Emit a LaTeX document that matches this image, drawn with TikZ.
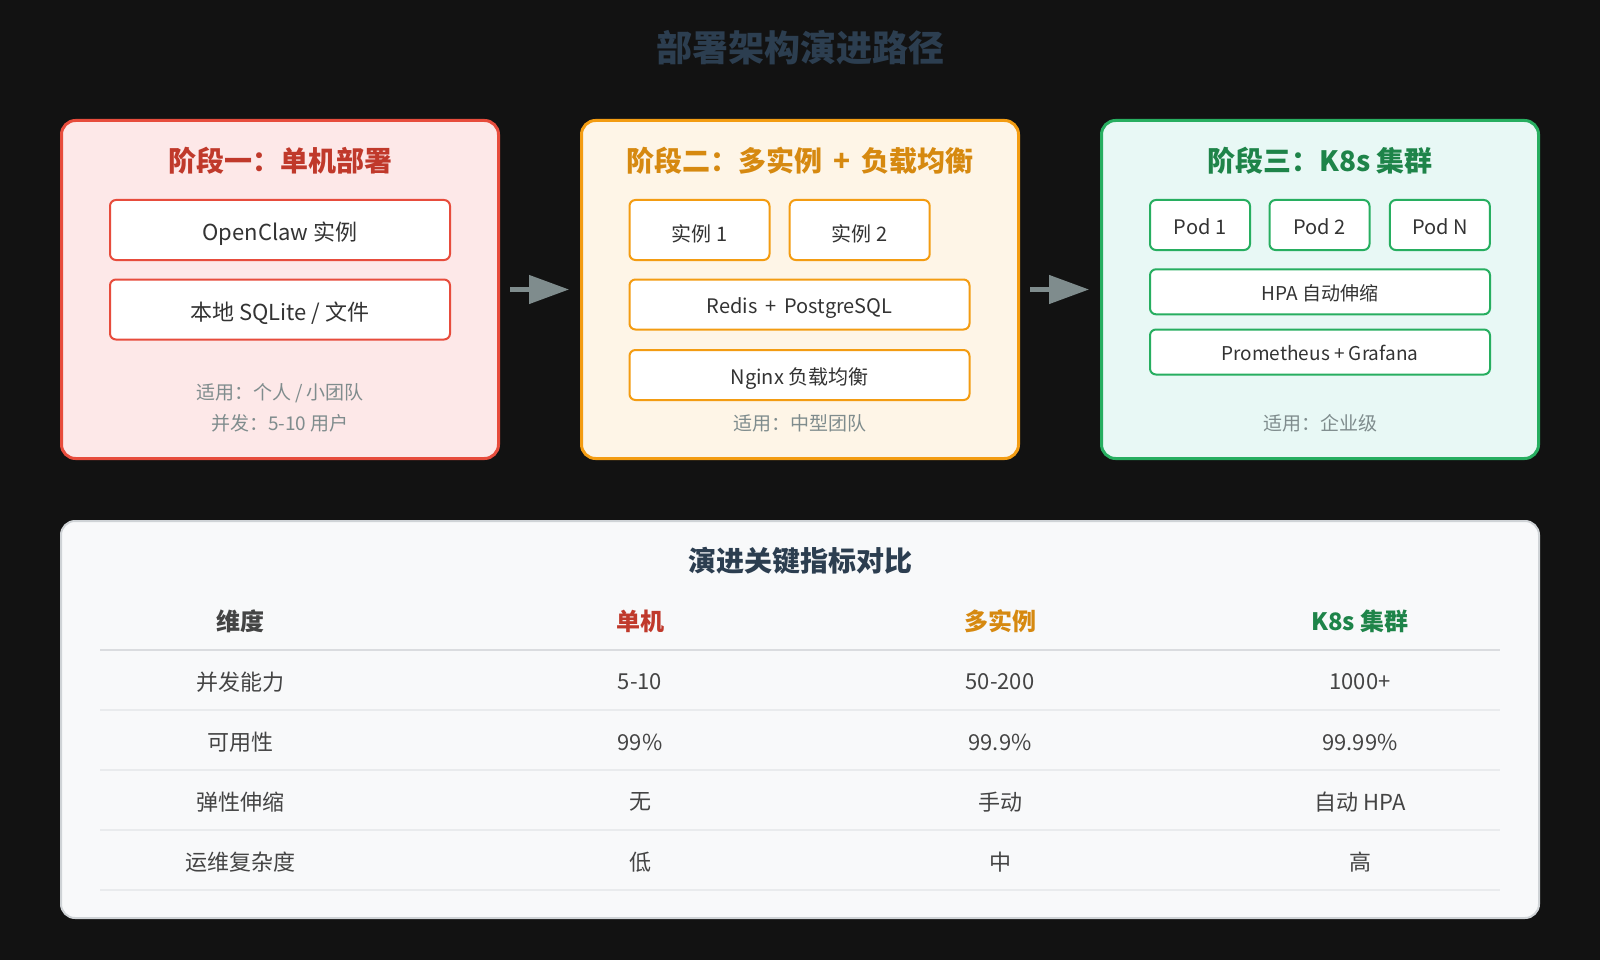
\documentclass[tikz,border=0pt]{standalone}
\usepackage{fontspec}
\setmainfont{Noto Sans CJK SC}
\usetikzlibrary{arrows.meta}
\definecolor{bg}{HTML}{121212}
\definecolor{titlec}{HTML}{2C3E50}
\definecolor{redS}{HTML}{E74C3C}
\definecolor{redT}{HTML}{C0392B}
\definecolor{redF}{HTML}{FDE8E8}
\definecolor{orS}{HTML}{F39C12}
\definecolor{orT}{HTML}{D68910}
\definecolor{orF}{HTML}{FEF5E7}
\definecolor{grS}{HTML}{27AE60}
\definecolor{grT}{HTML}{1E8449}
\definecolor{grF}{HTML}{E8F8F5}
\definecolor{grayT}{HTML}{7F8C8D}
\definecolor{textc}{HTML}{333333}
\definecolor{rowc}{HTML}{444444}
\definecolor{panelF}{HTML}{F8F9FA}
\definecolor{panelS}{HTML}{CFD3D6}
\definecolor{hline}{HTML}{DADCDF}
\definecolor{rline}{HTML}{E9EBED}
\newcommand{\mydown}[2]{\raisebox{-#1}[\height][\depth]{#2}}
\newcommand{\plsp}{\hspace{0.4em}+\hspace{0.4em}}
\tikzset{
  stagebox/.style={rounded corners=14pt, line width=3pt, minimum width=437pt, minimum height=338pt, inner sep=0pt},
  itembox/.style={rounded corners=6pt, line width=2pt, fill=white, inner sep=0pt, text=textc},
  stagetitle/.style={font=\fontsize{28}{32}\selectfont\bfseries, inner sep=0pt},
  note/.style={font=\fontsize{19}{22}\selectfont, text=grayT, inner sep=0pt},
  itemtext/.style={font=\fontsize{22}{26}\selectfont},
  podtext/.style={font=\fontsize{20}{24}\selectfont},
  flow/.style={draw=grayT, line width=4.5pt, -{Triangle[length=40pt,width=28pt]}, shorten <=10pt, shorten >=11pt},
  cell/.style={font=\fontsize{22}{26}\selectfont, text=rowc, inner sep=0pt},
  head/.style={font=\fontsize{24}{28}\selectfont\bfseries, inner sep=0pt},
}
\begin{document}
\begin{tikzpicture}[x=1pt,y=-1pt]
\fill[bg] (0,0) rectangle (1600,960);
\useasboundingbox (0,0) rectangle (1600,960);

\node[font=\fontsize{36}{40}\selectfont\bfseries, text=titlec, inner sep=0pt] (title) at (800,48) {部署架构演进路径};

% Stage 1
\node[stagebox, draw=redS, fill=redF] (s1) at (280,289.5) {};
\node[stagetitle, text=redT] (s1t) at (280,161) {阶段一：单机部署};
\node[itembox, draw=redS, minimum width=340pt, minimum height=60pt, itemtext] (s1a) at (280,230) {\mydown{4pt}{OpenClaw 实例}};
\node[itembox, draw=redS, minimum width=340pt, minimum height=60pt, itemtext] (s1b) at (280,309.5) {\mydown{4pt}{本地 SQLite / 文件}};
\node[note] (s1n1) at (280,393.5) {适用：个人 / 小团队};
\node[note] (s1n2) at (280,423) {并发：5-10 用户};

% Stage 2
\node[stagebox, draw=orS, fill=orF] (s2) at (800,289.5) {};
\node[stagetitle, text=orT] (s2t) at (800,161) {阶段二：多实例\plsp 负载均衡};
\node[itembox, draw=orS, minimum width=140pt, minimum height=60pt, podtext] (s2a) at (699.5,230) {\mydown{3.5pt}{实例 1}};
\node[itembox, draw=orS, minimum width=140pt, minimum height=60pt, podtext] (s2b) at (859.7,230) {\mydown{3.5pt}{实例 2}};
\node[itembox, draw=orS, minimum width=340pt, minimum height=50pt, podtext] (s2c) at (799.5,304.5) {\mydown{3.5pt}{Redis\plsp PostgreSQL}};
\node[itembox, draw=orS, minimum width=340pt, minimum height=50pt, podtext] (s2d) at (799.5,375) {\mydown{3.5pt}{Nginx 负载均衡}};
\node[note] (s2n) at (800,423) {适用：中型团队};

% Stage 3
\node[stagebox, draw=grS, fill=grF] (s3) at (1320,289.5) {};
\node[stagetitle, text=grT] (s3t) at (1320,161) {阶段三：K8s 集群};
\node[itembox, draw=grS, minimum width=100pt, minimum height=50pt, podtext] (p1) at (1200,225) {\mydown{2pt}{Pod 1}};
\node[itembox, draw=grS, minimum width=100pt, minimum height=50pt, podtext] (p2) at (1319.5,225) {\mydown{2pt}{Pod 2}};
\node[itembox, draw=grS, minimum width=100pt, minimum height=50pt, podtext] (pn) at (1439.8,225) {\mydown{2pt}{Pod N}};
\node[itembox, draw=grS, minimum width=340pt, minimum height=45pt, font=\fontsize{19}{22}\selectfont] (hpa) at (1320,291.8) {\mydown{1pt}{HPA 自动伸缩}};
\node[itembox, draw=grS, minimum width=340pt, minimum height=45pt, font=\fontsize{19}{22}\selectfont] (prom) at (1320,352) {\mydown{1pt}{Prometheus + Grafana}};
\node[note] (s3n) at (1320,423) {适用：企业级};

% arrows
\draw[flow] (s1.east) -- (s2.west);
\draw[flow] (s2.east) -- (s3.west);

% Table panel
\node[draw=panelS, fill=panelF, line width=2pt, rounded corners=14pt, minimum width=1478pt, minimum height=397pt, inner sep=0pt] (panel) at (800,719.5) {};
\node[font=\fontsize{28}{31}\selectfont\bfseries, text=titlec, inner sep=0pt] (ptitle) at (800,560.5) {演进关键指标对比};

\node[head, text=rowc] (h0) at (240,621.5) {维度};
\node[head, text=redT] (h1) at (640,621.5) {单机};
\node[head, text=orT] (h2) at (1000,621.5) {多实例};
\node[head, text=grT] (h3) at (1360,621.5) {K8s 集群};

\coordinate (l0a) at (100,650); \coordinate (l0b) at (1500,650);
\draw[hline, line width=2pt] (l0a) -- (l0b);
\foreach \yy in {710,770,830,890}{
  \draw[rline, line width=1.5pt] (100,\yy) -- (1500,\yy);
}

\node[cell] (r1c0) at (240,682) {并发能力};
\node[cell] (r1c1) at (640,682) {5-10};
\node[cell] (r1c2) at (1000,682) {50-200};
\node[cell] (r1c3) at (1360,682) {1000+};

\node[cell] (r2c0) at (240,742) {可用性};
\node[cell] (r2c1) at (640,742) {99\%};
\node[cell] (r2c2) at (1000,742) {99.9\%};
\node[cell] (r2c3) at (1360,742) {99.99\%};

\node[cell] (r3c0) at (240,802) {弹性伸缩};
\node[cell] (r3c1) at (640,802) {无};
\node[cell] (r3c2) at (1000,802) {手动};
\node[cell] (r3c3) at (1360,802) {自动 HPA};

\node[cell] (r4c0) at (240,862) {运维复杂度};
\node[cell] (r4c1) at (640,862) {低};
\node[cell] (r4c2) at (1000,862) {中};
\node[cell] (r4c3) at (1360,862) {高};
\end{tikzpicture}
\end{document}
